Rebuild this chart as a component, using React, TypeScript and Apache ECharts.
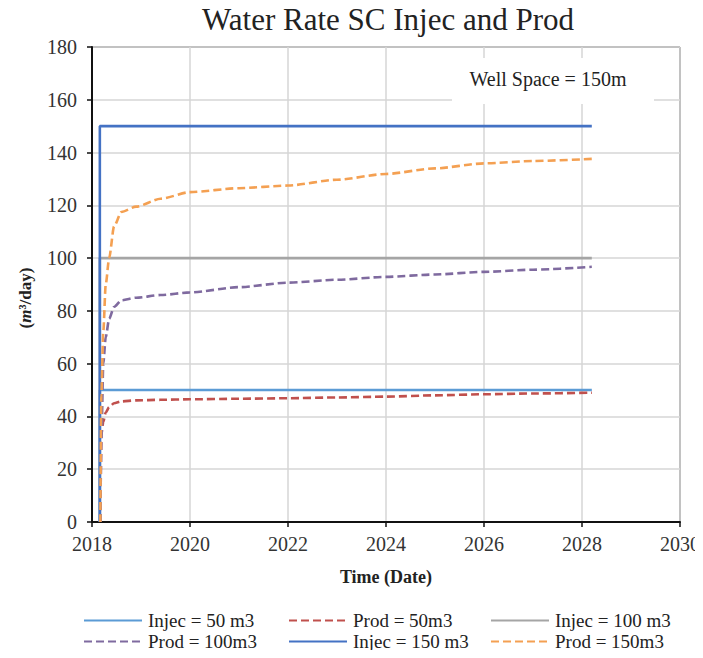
import React, { useEffect, useRef } from "react";
import * as echarts from "echarts";

const FONT = "Liberation Serif";

const prodTime = [2018.17, 2018.19, 2018.23, 2018.28, 2018.35, 2018.45, 2018.6, 2018.9, 2019.4, 2020.0, 2021.0, 2022.0, 2023.0, 2024.0, 2025.0, 2026.0, 2027.0, 2028.2];
const prod50 = [0, 33, 38, 41.5, 43.5, 45, 45.7, 46.1, 46.3, 46.5, 46.7, 46.9, 47.2, 47.5, 48.0, 48.4, 48.7, 49.0];
const prod100 = [0, 30, 60, 70, 77, 81.5, 84, 85, 86, 87, 89, 90.7, 91.8, 92.9, 93.8, 94.8, 95.6, 96.7];
const prod150 = [0, 48, 72, 90, 100, 112, 117.5, 119.5, 122.5, 125, 126.5, 127.5, 129.7, 131.9, 134, 135.9, 136.8, 137.6];

const injecTime = [2018.16, 2018.16, 2028.2];
const injec50 = [0, 50, 50];
const injec100 = [0, 100, 100];
const injec150 = [0, 150, 150];

const seriesNames = ["Injec = 50 m3", "Prod = 50m3", "Injec = 100 m3", "Prod = 100m3", "Injec = 150 m3", "Prod = 150m3"];
const seriesColors = ["#5B9BD5", "#C0504D", "#A5A5A5", "#7F6A9F", "#4472C4", "#F4A052"];

const xTicks = [2018, 2030, 2];
const yTicks = [0, 180, 20];

const zip = (xs: number[], ys: number[]) => xs.map((x, i) => [x, ys[i]]);

export default function App() {
  const ref = useRef<HTMLDivElement>(null);
  useEffect(() => {
    if (!ref.current) return;
    const chart = echarts.init(ref.current, null, { renderer: "svg" });
    const datasets = [
      zip(injecTime, injec50),
      zip(prodTime, prod50),
      zip(injecTime, injec100),
      zip(prodTime, prod100),
      zip(injecTime, injec150),
      zip(prodTime, prod150),
    ];
    const series = seriesNames.map((name, i) => {
      const dashed = name.startsWith("Prod");
      return {
        name,
        type: "line",
        data: datasets[i],
        showSymbol: false,
        symbol: "none",
        smooth: dashed ? 0.25 : false,
        smoothMonotone: "x",
        color: seriesColors[i],
        lineStyle: {
          color: seriesColors[i],
          width: 2.6,
          type: dashed ? [8, 4] : "solid",
        },
        z: i < 3 ? 2 : 3,
      };
    });
    const colLeft = [83, 288, 490];
    const rowTop = [611, 632];
    const legends = seriesNames.map((name, i) => ({
      data: [name],
      left: colLeft[i % 3],
      top: rowTop[Math.floor(i / 3)],
      itemWidth: 58,
      itemHeight: 14,
      itemGap: 0,
      padding: 0,
      selectedMode: false,
      itemStyle: { opacity: 0 },
      textStyle: { fontFamily: FONT, fontSize: 19, color: "#222", padding: [0, 0, 0, 1] },
    }));
    chart.setOption({
      animation: false,
      backgroundColor: "#fff",
      textStyle: { fontFamily: FONT },
      title: {
        text: "Water Rate SC Injec and Prod",
        left: 388,
        top: 4,
        padding: 0,
        textAlign: "center",
        textStyle: { fontFamily: FONT, fontSize: 31, fontWeight: "normal", color: "#222" },
      },
      legend: legends,
      grid: {
        left: 92,
        right: 20,
        top: 47,
        bottom: 136,
        show: true,
        borderColor: "#111",
        borderWidth: 1,
        backgroundColor: "transparent",
      },
      xAxis: {
        type: "value",
        min: xTicks[0],
        max: xTicks[1],
        interval: xTicks[2],
        name: "Time (Date)",
        nameLocation: "middle",
        nameGap: 46,
        nameTextStyle: { fontFamily: FONT, fontSize: 18, fontWeight: "bold", color: "#222" },
        axisLine: { show: true, lineStyle: { color: "#111", width: 2 } },
        axisTick: { show: true, length: 5, lineStyle: { color: "#111", width: 1.5 } },
        axisLabel: { fontFamily: FONT, fontSize: 20, color: "#333", margin: 12, formatter: (v: number) => String(v) },
        splitLine: { show: true, lineStyle: { color: "#D6D6D6", width: 1.5 } },
      },
      yAxis: {
        type: "value",
        min: yTicks[0],
        max: yTicks[1],
        interval: yTicks[2],
        axisLine: { show: true, lineStyle: { color: "#111", width: 2 } },
        axisTick: { show: true, length: 5, lineStyle: { color: "#111", width: 1.5 } },
        axisLabel: { fontFamily: FONT, fontSize: 20, color: "#333", margin: 15 },
        splitLine: { show: true, lineStyle: { color: "#D6D6D6", width: 1.5 } },
      },
      graphic: [
        {
          type: "rect",
          shape: { x: 452, y: 58, width: 202, height: 46 },
          style: { fill: "#fff" },
          z: 10,
        },
        {
          type: "text",
          x: 548,
          y: 79,
          style: {
            text: "Well Space = 150m",
            fontFamily: FONT,
            fontSize: 20,
            fill: "#222",
            textAlign: "center",
            textVerticalAlign: "middle",
          },
          z: 11,
        },
        {
          type: "text",
          x: 25,
          y: 298,
          rotation: Math.PI / 2,
          style: {
            text: "({i|m}³/day)",
            fontFamily: FONT,
            fontSize: 17,
            fontWeight: "bold",
            fill: "#222",
            textAlign: "center",
            textVerticalAlign: "middle",
            rich: {
              i: { fontFamily: FONT, fontSize: 17, fontWeight: "bold", fontStyle: "italic", fill: "#222" },
            },
          },
          z: 11,
        },
      ],
      series,
    });
    return () => chart.dispose();
  }, []);
  return <div ref={ref} style={{ width: 703, height: 658, margin: -8 }} />;
}
